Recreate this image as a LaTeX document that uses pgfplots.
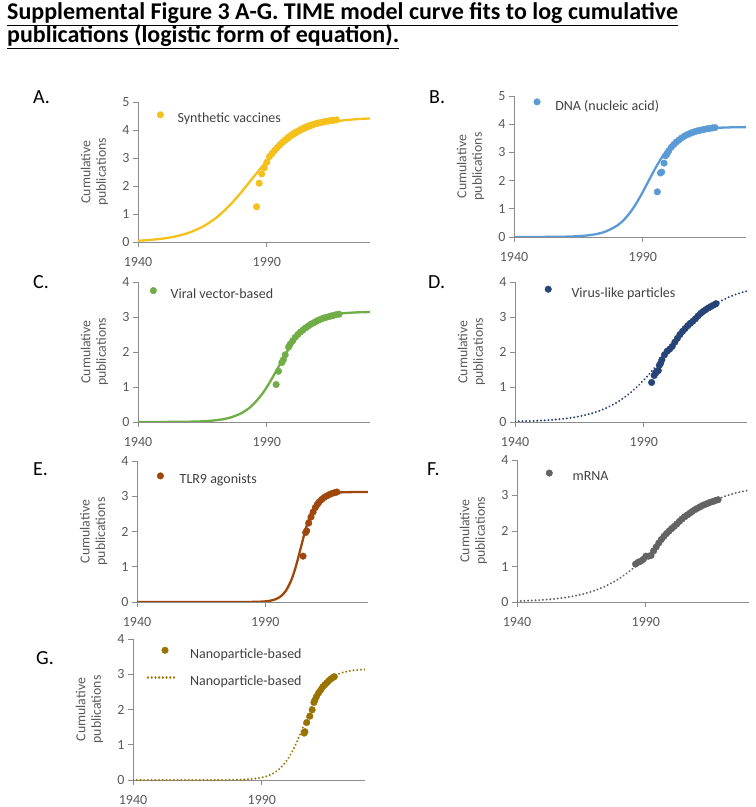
\documentclass[border=0pt]{standalone}
\usepackage{pgfplots}
\pgfplotsset{compat=1.18}
\usepackage{fontspec}
\setmainfont{Carlito}
\definecolor{cA}{HTML}{F4C01C}
\definecolor{cB}{HTML}{5B9BD5}
\definecolor{cC}{HTML}{70AD47}
\definecolor{cD}{HTML}{264478}
\definecolor{cE}{HTML}{9E480E}
\definecolor{cF}{HTML}{636363}
\definecolor{cG}{HTML}{997300}
\definecolor{axgray}{HTML}{8C8C8C}
\definecolor{tickgray}{HTML}{595959}
\definecolor{leggray}{HTML}{404040}
\newcommand\tkfont{\fontsize{14}{16}\selectfont}
\newcommand\lgfont{\fontsize{14}{16}\selectfont}
\newcommand\ylfont{\fontsize{13.8}{15.6}\selectfont}
\pgfplotsset{
  panel/.style={
    scale only axis, width=232pt, height=140pt, anchor=south west,
    xmin=1940, xmax=2030, ymin=0,
    axis lines=left, axis line style={draw=axgray, line width=0.8pt, -},
    xtick={1940,1990}, tick align=outside, major tick length=5pt,
    minor tick num=0,
    tick style={draw=axgray, line width=0.8pt},
    /pgf/number format/assume math mode=true,
    x tick label style={/pgf/number format/1000 sep={}, font=\tkfont, text=tickgray, inner sep=1pt, yshift=-9pt},
    y tick label style={font=\tkfont, text=tickgray},
    ylabel={Cumulative\\publications},
    ylabel style={align=center, font=\ylfont, text=tickgray, at={(axis description cs:-0.1875,0.5)}, anchor=center},
    legend style={draw=none, fill=none, inner sep=0pt, outer sep=0pt, anchor=west,
      font=\lgfont, text=leggray, column sep=12pt},
    legend cell align=left,
  },
  curve/.style={line width=2.3pt, smooth, no markers},
  dotcurve/.style={line width=2.2pt, smooth, no markers, line cap=round, dash pattern=on 0.01pt off 3.7pt},
  pts/.style={only marks, mark=*, mark size=3.3pt,
    legend image code/.code={\draw[##1] plot coordinates {(0pt,4pt)};}},
  gpts/.style={only marks, mark=*, mark size=3.3pt,
    legend image code/.code={\path[draw=none,fill=none] (0pt,4pt) -- (28pt,4pt); \draw[##1] plot coordinates {(17pt,4pt)};}},
  gline/.style={line width=2.2pt, line cap=round, dash pattern=on 0.01pt off 3.7pt,
    legend image code/.code={\draw[##1] (0pt,4pt) -- (28pt,4pt);}},
}
\begin{document}
\begin{tikzpicture}
\useasboundingbox (0,0) rectangle (756pt,807pt);
% title
\node[anchor=base west, font=\fontsize{24}{28}\selectfont\bfseries, inner sep=0pt] at (7pt,787.7pt) {\underline{Supplemental Figure 3 A-G. TIME model curve fits to log cumulative}};
\node[anchor=base west, font=\fontsize{24}{28}\selectfont\bfseries, inner sep=0pt] at (7pt,764pt) {\underline{publications (logistic form of equation).}};
% panel letters
\foreach \l/\x/\y in {A./33/703.6, B./429/703.6, C./33/518.6, D./428/518.6, E./33/331.6, F./427/331.6, G./36/142.6}
  \node[anchor=base west, font=\fontsize{20}{22}\selectfont, inner sep=0pt] at (\x pt,\y pt) {\l};

% ---------------- A
\begin{axis}[panel, at={(138pt,565pt)}, ymax=5, ytick={0,1,2,3,4,5},
  legend style={at={(0.082,0.88)}}]
\addplot[curve, color=cA, forget plot] coordinates {(1940,0.045)(1945,0.076)(1950,0.126)(1955,0.208)(1960,0.339)(1965,0.542)(1970,0.841)(1975,1.254)(1980,1.769)(1985,2.341)(1990,2.897)(1995,3.375)(2000,3.742)(2005,4.000)(2010,4.171)(2015,4.280)(2020,4.347)(2025,4.388)(2030,4.413)};
\addplot[pts, color=cA] coordinates {(1986,1.26)(1987,2.10)(1988,2.43)(1989,2.65)(1990,2.85)(1991,3.05)(1992,3.16)(1993,3.27)(1994,3.37)(1995,3.47)(1996,3.56)(1997,3.64)(1998,3.72)(1999,3.79)(2000,3.85)(2001,3.91)(2002,3.96)(2003,4.01)(2004,4.06)(2005,4.10)(2006,4.14)(2007,4.17)(2008,4.20)(2009,4.23)(2010,4.25)(2011,4.27)(2012,4.29)(2013,4.31)(2014,4.32)(2015,4.34)(2016,4.35)(2017,4.36)};
\addlegendentry{Synthetic vaccines}
\end{axis}

% ---------------- B
\begin{axis}[panel, at={(514pt,570pt)}, height=141pt, ymax=5, ytick={0,1,2,3,4,5},
  legend style={at={(0.085,0.93)}, column sep=13pt}]
\addplot[curve, color=cB, forget plot] coordinates {(1940,0.000)(1950,0.002)(1960,0.012)(1965,0.030)(1970,0.073)(1975,0.175)(1980,0.403)(1983,0.645)(1986,0.989)(1989,1.436)(1992,1.950)(1995,2.464)(1998,2.911)(2001,3.255)(2004,3.497)(2007,3.654)(2010,3.753)(2015,3.839)(2020,3.875)(2025,3.890)(2030,3.896)};
\addplot[pts, color=cB] coordinates {(1995.6,1.60)(1996.8,2.27)(1997.3,2.30)(1998.2,2.62)(1998.8,2.88)(1999.4,2.95)(2000,3.05)(2001,3.18)(2002,3.28)(2003,3.37)(2004,3.44)(2005,3.51)(2006,3.57)(2007,3.62)(2008,3.66)(2009,3.70)(2010,3.73)(2011,3.76)(2012,3.78)(2013,3.80)(2014,3.82)(2015,3.84)(2016,3.85)(2017,3.87)(2018,3.88)};
\addlegendentry{DNA (nucleic acid)}
\end{axis}

% ---------------- C
\begin{axis}[panel, at={(138pt,385pt)}, ymax=4, ytick={0,1,2,3,4},
  legend style={at={(0.052,0.91)}}]
\addplot[curve, color=cC, forget plot] coordinates {(1940,0.000)(1950,0.002)(1960,0.009)(1965,0.021)(1970,0.048)(1975,0.110)(1980,0.247)(1984,0.453)(1988,0.784)(1991,1.120)(1994,1.508)(1997,1.905)(2000,2.262)(2003,2.549)(2006,2.759)(2010,2.939)(2015,3.056)(2020,3.109)(2025,3.132)(2030,3.142)};
\addplot[pts, color=cC] coordinates {(1993.6,1.07)(1994.5,1.45)(1995.8,1.70)(1996.4,1.78)(1997.1,1.92)(1998.4,2.14)(1999,2.22)(2000,2.32)(2001,2.42)(2002,2.50)(2003,2.57)(2004,2.63)(2005,2.69)(2006,2.74)(2007,2.79)(2008,2.83)(2009,2.87)(2010,2.91)(2011,2.94)(2012,2.97)(2013,2.99)(2014,3.01)(2015,3.03)(2016,3.05)(2017,3.07)(2018,3.08)};
\addlegendentry{Viral vector-based}
\end{axis}

% ---------------- D
\begin{axis}[panel, at={(515pt,385pt)}, ymax=4, ytick={0,1,2,3,4},
  legend style={at={(0.129,0.92)}, column sep=18pt}]
\addplot[dotcurve, color=cD, forget plot] coordinates {(1940,0.017)(1945,0.026)(1950,0.041)(1955,0.066)(1960,0.103)(1965,0.162)(1970,0.252)(1975,0.386)(1980,0.581)(1985,0.851)(1990,1.201)(1995,1.620)(2000,2.076)(2005,2.521)(2010,2.913)(2015,3.228)(2020,3.463)(2025,3.629)(2030,3.742)};
\addplot[pts, color=cD] coordinates {(1993,1.13)(1994,1.33)(1994.6,1.40)(1995,1.45)(1995.6,1.47)(1996,1.62)(1996.5,1.68)(1997,1.78)(1998,1.92)(1999,2.02)(2000,2.08)(2001,2.16)(2002,2.28)(2003,2.39)(2004,2.50)(2005,2.59)(2006,2.67)(2007,2.75)(2008,2.82)(2009,2.88)(2010,2.95)(2011,3.03)(2012,3.10)(2013,3.16)(2014,3.21)(2015,3.26)(2016,3.30)(2017,3.34)(2018,3.38)};
\addlegendentry{Virus-like particles}
\end{axis}

% ---------------- E
\begin{axis}[panel, at={(137pt,205pt)}, width=231pt, height=141pt, ymax=4, ytick={0,1,2,3,4},
  legend style={at={(0.087,0.866)}, column sep=14pt}]
\addplot[curve, color=cE, forget plot] coordinates {(1940,0.000)(1970,0.000)(1980,0.0005)(1985,0.003)(1988,0.009)(1990,0.018)(1992,0.038)(1994,0.078)(1996,0.160)(1998,0.317)(2000,0.598)(2001,0.797)(2002,1.035)(2003,1.305)(2004,1.589)(2005,1.873)(2006,2.137)(2007,2.368)(2008,2.559)(2010,2.824)(2012,2.972)(2014,3.047)(2017,3.096)(2020,3.112)(2025,3.119)(2030,3.120)};
\addplot[pts, color=cE] coordinates {(2004.7,1.30)(2005.7,1.97)(2006.1,2.02)(2006.9,2.24)(2007.8,2.41)(2008.6,2.55)(2009.5,2.68)(2010.3,2.77)(2011,2.84)(2012,2.91)(2013,2.97)(2014,3.01)(2015,3.05)(2016,3.08)(2017,3.10)(2017.9,3.12)};
\addlegendentry{TLR9 agonists}
\end{axis}

% ---------------- F
\begin{axis}[panel, at={(517pt,205pt)}, height=142pt, ymax=4, ytick={0,1,2,3,4},
  legend style={at={(0.125,0.88)}, column sep=18pt}]
\addplot[dotcurve, color=cF, forget plot] coordinates {(1940,0.025)(1945,0.039)(1950,0.060)(1955,0.092)(1960,0.140)(1965,0.213)(1970,0.319)(1975,0.470)(1980,0.677)(1985,0.944)(1990,1.265)(1995,1.621)(2000,1.980)(2005,2.308)(2010,2.585)(2015,2.801)(2020,2.960)(2025,3.073)(2030,3.150)};
\addplot[pts, color=cF] coordinates {(1986,1.07)(1987,1.12)(1988,1.15)(1989,1.20)(1990,1.29)(1991,1.29)(1992,1.31)(1993,1.44)(1994,1.55)(1995,1.66)(1996,1.76)(1997,1.85)(1998,1.93)(1999,2.00)(2000,2.07)(2001,2.13)(2002,2.20)(2003,2.27)(2004,2.34)(2005,2.40)(2006,2.45)(2007,2.50)(2008,2.55)(2009,2.60)(2010,2.64)(2011,2.68)(2012,2.72)(2013,2.75)(2014,2.78)(2015,2.81)(2016,2.83)(2017,2.86)(2018,2.88)};
\addlegendentry{mRNA}
\end{axis}

% ---------------- G
\begin{axis}[panel, at={(133pt,27pt)}, height=141pt, ymax=4, ytick={0,1,2,3,4},
  legend style={at={(0.060,0.795)}, column sep=11pt, row sep=12pt}]
\addplot[dotcurve, color=cG, forget plot] coordinates {(1940,0.000)(1970,0.001)(1980,0.007)(1985,0.023)(1990,0.071)(1993,0.138)(1996,0.264)(1999,0.486)(2001,0.706)(2003,0.989)(2005,1.324)(2007,1.684)(2009,2.032)(2011,2.338)(2013,2.584)(2016,2.838)(2020,3.018)(2025,3.107)(2030,3.136)};
\addplot[gpts, color=cG]
  coordinates {(2006.4,1.33)(2006.7,1.37)(2007.4,1.63)(2008.6,1.81)(2009.5,1.99)(2010.2,2.20)(2010.6,2.27)(2011.2,2.37)(2012,2.47)(2012.8,2.55)(2013.6,2.64)(2014.4,2.70)(2015.2,2.76)(2016,2.82)(2016.8,2.87)(2017.6,2.91)(2018.1,2.93)};
\addlegendentry{Nanoparticle-based}
\addlegendimage{gline, color=cG}
\addlegendentry{Nanoparticle-based}
\end{axis}
\end{tikzpicture}
\end{document}
